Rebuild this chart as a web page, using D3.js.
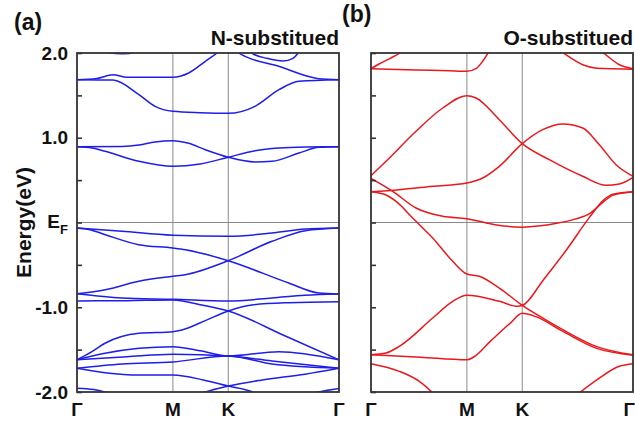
<!DOCTYPE html>
<html>
<head>
<meta charset="utf-8">
<script src="https://cdn.jsdelivr.net/npm/d3@7"></script>
<style>
  html, body { margin: 0; padding: 0; background: #fff; }
  svg { display: block; font-family: "Liberation Sans", Arial, sans-serif; font-weight: bold; }
</style>
</head>
<body>
<svg id="chart" width="635" height="423"></svg>
<script>
// High-symmetry path Γ–M–K–Γ (path length in units of 2π/a)
const kLabels = ["Γ", "M", "K", "Γ"];
const kPoints = [0, 0.5774, 0.9107, 1.5774];

// Energy axis (eV, relative to E_F)
const yMajor = [-2, -1, 0, 1, 2];
const yMajorLabels = ["-2.0", "-1.0", "E_F", "1.0", "2.0"];
const yMinor = [-1.5, -0.5, 0.5, 1.5];

const panelTitles = ["N-substitued", "O-substitued"];
const panelTags = ["(a)", "(b)"];

// N-substituted bands: [k, E]
const nBands = [
  [[0,1.685],[0.12,1.70],[0.217,1.742],[0.301,1.713],[0.5774,1.713],[0.6725,1.764],[0.7725,1.902],[0.843,2.0],[0.9107,2.12],[0.9736,2.0],[1.2144,1.843],[1.4553,1.697],[1.5774,1.685]],
  [[0,1.685],[0.217,1.68],[0.373,1.508],[0.47,1.371],[0.5774,1.312],[0.741,1.295],[0.9107,1.288],[1.072,1.371],[1.216,1.567],[1.337,1.666],[1.5774,1.685]],
  [[0,2.1],[0.277,1.99],[0.5774,2.2]],
  [[0.9107,2.3],[1.0115,2.1],[1.0597,1.99],[1.144,1.937],[1.24,1.906],[1.3,1.937],[1.331,2.0],[1.373,2.15],[1.5774,2.3]],
  [[0,0.894],[0.271,0.898],[0.373,0.915],[0.47,0.95],[0.5774,0.965],[0.6725,0.934],[0.7725,0.859],[0.9107,0.77],[1.072,0.714],[1.174,0.722],[1.337,0.82],[1.457,0.887],[1.5774,0.894]],
  [[0,0.894],[0.09,0.88],[0.17,0.84],[0.373,0.722],[0.5774,0.663],[0.741,0.69],[0.9107,0.77],[1.072,0.847],[1.216,0.879],[1.373,0.891],[1.5774,0.894]],
  [[0,-0.065],[0.271,-0.104],[0.5774,-0.151],[0.9107,-0.163],[1.174,-0.124],[1.3746,-0.077],[1.5774,-0.065]],
  [[0,-0.065],[0.078,-0.085],[0.1704,-0.144],[0.3715,-0.262],[0.5774,-0.301],[0.652,-0.321],[0.9107,-0.451],[1.2747,-0.714],[1.4553,-0.832],[1.5774,-0.844]],
  [[0,-0.84],[0.1704,-0.793],[0.3715,-0.694],[0.5774,-0.635],[0.652,-0.616],[0.9107,-0.451],[1.174,-0.222],[1.3746,-0.097],[1.5774,-0.065]],
  [[0,-0.84],[0.271,-0.891],[0.5774,-0.906],[0.9107,-0.926],[1.174,-0.891],[1.373,-0.859],[1.5774,-0.844]],
  [[0,-0.926],[0.3,-0.922],[0.5774,-0.915],[0.741,-0.97],[0.9107,-1.044],[1.244,-1.33],[1.5774,-1.62]],
  [[0,-1.62],[0.09,-1.524],[0.1686,-1.425],[0.3733,-1.307],[0.5774,-1.288],[0.6322,-1.268],[0.7725,-1.158],[0.9107,-1.044],[1.0537,-0.973],[1.2765,-0.946],[1.5774,-0.935]],
  [[0,-1.62],[0.1686,-1.544],[0.3733,-1.485],[0.5774,-1.465],[0.7406,-1.513],[0.9107,-1.575],[1.2162,-1.524],[1.5774,-1.62]],
  [[0,-1.62],[0.3,-1.585],[0.5774,-1.556],[0.9107,-1.575],[1.174,-1.634],[1.5774,-1.72]],
  [[0,-1.72],[0.271,-1.67],[0.5774,-1.645],[0.9107,-1.575],[1.174,-1.67],[1.5774,-1.72]],
  [[0,-1.72],[0.1686,-1.772],[0.3733,-1.8],[0.5774,-1.8],[0.7606,-1.858],[0.9107,-1.93],[1.0537,-1.996],[1.2,-2.15],[1.5774,-2.3]],
  [[0,-2.3],[0.6,-2.15],[0.7725,-2.0],[0.9107,-1.93],[1.108,-1.86],[1.373,-1.79],[1.5774,-1.72]],
  [[0,-1.955],[0.1,-1.97],[0.211,-2.02],[0.5774,-2.3],[0.9107,-2.4],[1.4553,-2.0],[1.5774,-1.96]]
];

// O-substituted bands: [k, E]
const oBands = [
  [[0,1.815],[0.271,1.8],[0.47,1.79],[0.5774,1.784],[0.6322,1.815],[0.6725,1.902],[0.7045,2.0],[0.9107,2.4],[1.158,2.0],[1.2783,1.858],[1.359,1.82],[1.5774,1.808]],
  [[0,1.815],[0.0482,1.87],[0.1144,1.937],[0.1746,2.0],[0.35,2.4],[0.5774,2.6],[0.9107,2.8],[1.4,2.0],[1.499,1.858],[1.5774,1.815]],
  [[0,0.552],[0.0903,0.722],[0.271,1.076],[0.4317,1.351],[0.5774,1.496],[0.6322,1.469],[0.7725,1.213],[0.9107,0.93],[1.0735,0.741],[1.2746,0.545],[1.415,0.439],[1.495,0.454],[1.5774,0.533]],
  [[0,0.364],[0.17,0.387],[0.3715,0.427],[0.5774,0.466],[0.6725,0.525],[0.7725,0.663],[0.9107,0.93],[1.0338,1.095],[1.1543,1.162],[1.2746,1.115],[1.3746,0.918],[1.4752,0.682],[1.5774,0.545]],
  [[0,0.521],[0.1307,0.368],[0.271,0.171],[0.4317,0.073],[0.5774,0.045],[0.7568,-0.03],[0.9107,-0.055],[1.118,-0.01],[1.2283,0.04],[1.3186,0.108],[1.397,0.24],[1.459,0.325],[1.5774,0.36]],
  [[0,0.364],[0.0843,0.33],[0.1565,0.24],[0.2511,0.053],[0.3715,-0.183],[0.4919,-0.458],[0.5774,-0.608],[0.652,-0.635],[0.7725,-0.773],[0.9107,-0.977],[1.0374,-1.131],[1.1578,-1.268],[1.359,-1.465],[1.5774,-1.56]],
  [[0,-1.56],[0.09,-1.54],[0.1704,-1.461],[0.3715,-1.127],[0.4919,-0.93],[0.5774,-0.859],[0.7725,-0.93],[0.8833,-0.989],[0.9107,-0.98],[1.0374,-0.678],[1.174,-0.33],[1.3186,0.069],[1.397,0.26],[1.457,0.335],[1.5774,0.364]],
  [[0,-1.56],[0.3,-1.59],[0.5774,-1.62],[0.616,-1.59],[0.7165,-1.406],[0.837,-1.19],[0.9107,-1.072],[0.9914,-1.111],[1.1578,-1.288],[1.359,-1.485],[1.5774,-1.565]],
  [[0,-1.666],[0.1704,-1.756],[0.295,-1.88],[0.3715,-2.01],[0.5774,-2.5],[0.9107,-2.6],[1.254,-2.01],[1.3746,-1.835],[1.495,-1.697],[1.5774,-1.666]]
];

const svg = d3.select("#chart");
const plotTop = 53, plotBottom = 392;
const panels = [
  { left: 77, right: 339, bands: nBands, color: "#1e1ee8", title: panelTitles[0], tag: panelTags[0], labels: true },
  { left: 371, right: 633, bands: oBands, color: "#e8191c", title: panelTitles[1], tag: panelTags[1], labels: false }
];

const y = d3.scaleLinear().domain([-2, 2]).range([plotBottom, plotTop]);

panels.forEach((p, i) => {
  const x = d3.scaleLinear().domain([0, kPoints[3]]).range([p.left, p.right]);
  const g = svg.append("g");

  g.append("clipPath").attr("id", "clip" + i)
    .append("rect").attr("x", p.left).attr("y", plotTop)
    .attr("width", p.right - p.left).attr("height", plotBottom - plotTop);

  // guide lines at M, K and at E_F
  g.selectAll("line.kline").data(kPoints.slice(1, 3)).join("line")
    .attr("x1", d => x(d)).attr("x2", d => x(d))
    .attr("y1", plotTop).attr("y2", plotBottom)
    .attr("stroke", "#8a8a8a").attr("stroke-width", 1);
  g.append("line")
    .attr("x1", p.left).attr("x2", p.right)
    .attr("y1", y(0)).attr("y2", y(0))
    .attr("stroke", "#8a8a8a").attr("stroke-width", 1);

  const line = d3.line()
    .x(d => x(d[0])).y(d => y(d[1]))
    .curve(d3.curveMonotoneX);

  g.append("g").attr("clip-path", `url(#clip${i})`)
    .selectAll("path").data(p.bands).join("path")
    .attr("d", line)
    .attr("fill", "none")
    .attr("stroke", p.color)
    .attr("stroke-width", 1.5);

  // frame
  g.append("rect")
    .attr("x", p.left).attr("y", plotTop)
    .attr("width", p.right - p.left).attr("height", plotBottom - plotTop)
    .attr("fill", "none").attr("stroke", "#333").attr("stroke-width", 1.8);

  // inward ticks on the left edge
  const axis = d3.axisLeft(y).tickValues(yMajor.concat(yMinor))
    .tickSizeInner(-5).tickSizeOuter(0).tickFormat("");
  const ag = g.append("g").attr("transform", `translate(${p.left},0)`).call(axis);
  ag.select(".domain").remove();
  ag.selectAll(".tick line").attr("stroke", "#333").attr("stroke-width", 1.6);

  // k-point labels (the last one is kept inside the page edge)
  g.selectAll("text.klab").data(kPoints).join("text")
    .attr("x", (d, j) => (i === 1 && j === 3) ? 635 : x(d)).attr("y", 416)
    .attr("text-anchor", (d, j) => (i === 1 && j === 3) ? "end" : "middle")
    .attr("font-size", 19)
    .attr("fill", "#111")
    .text((d, j) => kLabels[j]);

  // panel title
  g.append("text").attr("x", p.right).attr("y", 45)
    .attr("text-anchor", "end").attr("font-size", 21).attr("fill", "#111")
    .text(p.title);
  g.append("text").attr("x", i === 0 ? 14 : 342).attr("y", i === 0 ? 30 : 22)
    .attr("font-size", 23).attr("fill", "#111")
    .text(p.tag);

  if (p.labels) {
    const lab = g.append("g");
    yMajor.forEach((v, j) => {
      const t = lab.append("text")
        .attr("x", 68).attr("y", y(v) + 6.5)
        .attr("text-anchor", "end").attr("font-size", 19).attr("fill", "#111");
      const s = yMajorLabels[j];
      if (s === "E_F") {
        t.attr("y", y(v) + 5);
        t.append("tspan").text("E");
        t.append("tspan").attr("font-size", 13).attr("dy", 6).text("F");
      } else {
        t.text(s);
      }
    });
    g.append("text")
      .attr("transform", `translate(31,${y(0)}) rotate(-90)`)
      .attr("text-anchor", "middle").attr("font-size", 21).attr("fill", "#111")
      .text("Energy(eV)");
  }
});
</script>
</body>
</html>
